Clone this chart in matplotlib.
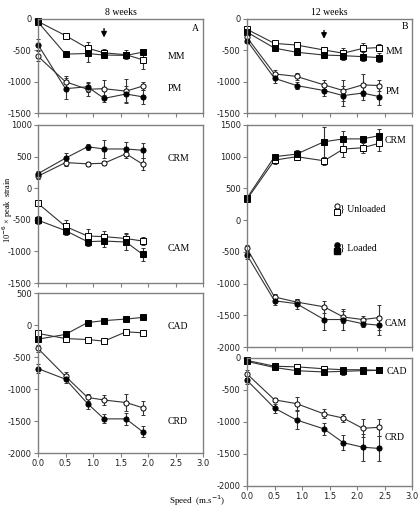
import numpy as np
import matplotlib
matplotlib.use('Agg')
from matplotlib import pyplot as plt

# speeds (m/s)
x8 = [0.0, 0.5, 0.9, 1.2, 1.6, 1.9]
x12 = [0.0, 0.5, 0.9, 1.4, 1.75, 2.1, 2.4]

# 8 weeks
mm_unl_8 = [-40, -265, -465, -540, -570, -650]
mm_unl_8_err = [30, 30, 90, 60, 70, 150]
mm_ld_8 = [-50, -560, -550, -575, -580, -530]
mm_ld_8_err = [30, 40, 130, 50, 40, 40]
pm_unl_8 = [-595, -1000, -1120, -1110, -1150, -1070]
pm_unl_8_err = [80, 90, 100, 140, 190, 60]
pm_ld_8 = [-410, -1110, -1080, -1265, -1195, -1240]
pm_ld_8_err = [90, 170, 80, 60, 120, 110]

crm_unl_8 = [190, 405, 385, 395, 545, 380]
crm_unl_8_err = [40, 60, 30, 30, 60, 100]
crm_ld_8 = [230, 475, 655, 620, 620, 600]
crm_ld_8_err = [40, 80, 50, 140, 110, 120]
cam_unl_8 = [-240, -605, -755, -765, -795, -835]
cam_unl_8_err = [30, 110, 110, 90, 90, 70]
cam_ld_8 = [-505, -670, -845, -835, -850, -1045]
cam_ld_8_err = [60, 70, 70, 100, 130, 100]

cad_unl_8 = [-130, -210, -225, -250, -105, -120]
cad_unl_8_err = [20, 20, 20, 20, 20, 20]
cad_ld_8 = [-220, -145, 40, 70, 95, 120]
cad_ld_8_err = [40, 30, 30, 20, 30, 30]
crd_unl_8 = [-365, -800, -1130, -1170, -1210, -1290]
crd_unl_8_err = [60, 60, 60, 80, 130, 110]
crd_ld_8 = [-680, -845, -1225, -1465, -1465, -1665]
crd_ld_8_err = [70, 60, 80, 70, 90, 90]

# 12 weeks
mm_unl_12 = [-165, -390, -415, -495, -545, -470, -455]
mm_unl_12_err = [30, 30, 40, 40, 80, 90, 50]
mm_ld_12 = [-210, -465, -530, -575, -585, -600, -615]
mm_ld_12_err = [40, 30, 30, 40, 70, 70, 70]
pm_unl_12 = [-295, -875, -915, -1050, -1140, -1050, -1060]
pm_unl_12_err = [40, 60, 50, 70, 170, 170, 90]
pm_ld_12 = [-345, -945, -1060, -1140, -1220, -1180, -1235]
pm_ld_12_err = [40, 80, 50, 80, 160, 110, 140]

crm_unl_12 = [330, 945, 1000, 935, 1120, 1140, 1210]
crm_unl_12_err = [30, 60, 60, 60, 120, 80, 120]
crm_ld_12 = [350, 1000, 1040, 1235, 1280, 1280, 1330]
crm_ld_12_err = [30, 40, 60, 240, 120, 50, 110]
cam_unl_12 = [-445, -1210, -1290, -1365, -1525, -1565, -1535]
cam_unl_12_err = [60, 40, 50, 90, 100, 60, 200]
cam_ld_12 = [-550, -1270, -1315, -1565, -1565, -1630, -1655]
cam_ld_12_err = [60, 70, 80, 170, 170, 50, 150]

cad_unl_12 = [-40, -130, -140, -170, -185, -185, -195]
cad_unl_12_err = [50, 30, 30, 30, 30, 30, 30]
cad_ld_12 = [-55, -150, -200, -220, -210, -200, -195]
cad_ld_12_err = [30, 30, 30, 50, 50, 50, 40]
crd_unl_12 = [-250, -655, -715, -875, -940, -1100, -1085]
crd_unl_12_err = [60, 30, 100, 70, 60, 140, 130]
crd_ld_12 = [-350, -785, -970, -1110, -1325, -1395, -1415]
crd_ld_12_err = [60, 70, 140, 100, 120, 210, 190]

grey = '#808080'
serif = 'Liberation Serif'
plt.rcParams['font.size'] = 7
plt.rcParams['axes.unicode_minus'] = False


def series(ax, x, y, e, marker, filled):
    ax.errorbar(x, y, yerr=e, fmt='-', marker=marker, ms=3.7,
                color='#333333', lw=0.8, elinewidth=0.8, capsize=1.5,
                mfc='k' if filled else 'w', mec='k', mew=0.7, clip_on=False)


def setup(ax, ylim, xlabels=False):
    ax.set_xlim(0, 3.0)
    ax.set_ylim(*ylim)
    ax.set_xticks(np.arange(0, 3.01, 0.5))
    ax.set_yticks(np.arange(ylim[0], ylim[1] + 1, 500))
    if xlabels:
        ax.set_xticklabels(['%.1f' % t for t in np.arange(0, 3.01, 0.5)])
    else:
        ax.set_xticklabels([])
    for s in ax.spines.values():
        s.set_color(grey)
        s.set_linewidth(1.0)
    ax.tick_params(direction='out', length=3, width=0.8, color=grey,
                   labelsize=6, pad=1.5, labelcolor='#222222')


fig = plt.figure(figsize=(4.19, 5.12), dpi=100)
w = 0.394
ax1 = fig.add_axes([0.0907, 0.779, w, 0.184])
ax2 = fig.add_axes([0.0907, 0.447, w, 0.309])
ax3 = fig.add_axes([0.0907, 0.115, w, 0.3125])
ax4 = fig.add_axes([0.5895, 0.779, w, 0.184])
ax5 = fig.add_axes([0.5895, 0.322, w, 0.434])
ax6 = fig.add_axes([0.5895, 0.051, w, 0.25])

# left column - 8 weeks
series(ax1, x8, mm_unl_8, mm_unl_8_err, 's', False)
series(ax1, x8, mm_ld_8, mm_ld_8_err, 's', True)
series(ax1, x8, pm_unl_8, pm_unl_8_err, 'o', False)
series(ax1, x8, pm_ld_8, pm_ld_8_err, 'o', True)
setup(ax1, (-1500, 0))
ax1.text(2.35, -595, 'MM', family=serif, va='center')
ax1.text(2.35, -1110, 'PM', family=serif, va='center')
ax1.text(2.8, -150, 'A', family=serif, va='center')
ax1.annotate('', xy=(1.2, -340), xytext=(1.2, -110),
             arrowprops=dict(arrowstyle='-|>', color='k', lw=1, mutation_scale=8))
ax1.set_title('8 weeks', family=serif, fontsize=7, pad=3)

series(ax2, x8, crm_unl_8, crm_unl_8_err, 'o', False)
series(ax2, x8, crm_ld_8, crm_ld_8_err, 'o', True)
series(ax2, x8, cam_unl_8, cam_unl_8_err, 's', False)
series(ax2, x8, cam_ld_8, cam_ld_8_err, 's', True)
setup(ax2, (-1500, 1000))
ax2.text(2.35, 473, 'CRM', family=serif, va='center')
ax2.text(2.35, -950, 'CAM', family=serif, va='center')

series(ax3, x8, cad_unl_8, cad_unl_8_err, 's', False)
series(ax3, x8, cad_ld_8, cad_ld_8_err, 's', True)
series(ax3, x8, crd_unl_8, crd_unl_8_err, 'o', False)
series(ax3, x8, crd_ld_8, crd_ld_8_err, 'o', True)
setup(ax3, (-2000, 500), xlabels=True)
ax3.text(2.35, -26, 'CAD', family=serif, va='center')
ax3.text(2.35, -1510, 'CRD', family=serif, va='center')

# right column - 12 weeks
series(ax4, x12, mm_unl_12, mm_unl_12_err, 's', False)
series(ax4, x12, mm_ld_12, mm_ld_12_err, 's', True)
series(ax4, x12, pm_unl_12, pm_unl_12_err, 'o', False)
series(ax4, x12, pm_ld_12, pm_ld_12_err, 'o', True)
setup(ax4, (-1500, 0))
ax4.text(2.52, -520, 'MM', family=serif, va='center')
ax4.text(2.52, -1156, 'PM', family=serif, va='center')
ax4.text(2.82, -120, 'B', family=serif, va='center')
ax4.annotate('', xy=(1.4, -360), xytext=(1.4, -140),
             arrowprops=dict(arrowstyle='-|>', color='k', lw=1, mutation_scale=8))
ax4.set_title('12 weeks', family=serif, fontsize=7, pad=3)

series(ax5, x12, crm_unl_12, crm_unl_12_err, 's', False)
series(ax5, x12, crm_ld_12, crm_ld_12_err, 's', True)
series(ax5, x12, cam_unl_12, cam_unl_12_err, 'o', False)
series(ax5, x12, cam_ld_12, cam_ld_12_err, 'o', True)
setup(ax5, (-2000, 1500))
ax5.text(2.5, 1262, 'CRM', family=serif, va='center')
ax5.text(2.5, -1630, 'CAM', family=serif, va='center')
# key
tr = ax5.transAxes
ax5.plot([0.545], [0.633], 'o', ms=3.7, mfc='w', mec='k', mew=0.7, transform=tr)
ax5.plot([0.545], [0.61], 's', ms=3.7, mfc='w', mec='k', mew=0.7, transform=tr)
ax5.text(0.565, 0.62, '} Unloaded', family=serif, va='center', transform=tr)
ax5.plot([0.545], [0.459], 'o', ms=3.7, mfc='k', mec='k', transform=tr)
ax5.plot([0.545], [0.434], 's', ms=3.7, mfc='k', mec='k', transform=tr)
ax5.text(0.565, 0.446, '} Loaded', family=serif, va='center', transform=tr)

series(ax6, x12, cad_unl_12, cad_unl_12_err, 's', False)
series(ax6, x12, cad_ld_12, cad_ld_12_err, 's', True)
series(ax6, x12, crd_unl_12, crd_unl_12_err, 'o', False)
series(ax6, x12, crd_ld_12, crd_ld_12_err, 'o', True)
setup(ax6, (-2000, 0), xlabels=True)
ax6.text(2.53, -210, 'CAD', family=serif, va='center')
ax6.text(2.5, -1250, 'CRD', family=serif, va='center')

fig.text(0.001, 0.59, r'10$^{-6}$ × peak  strain', rotation=90, family=serif,
         va='center', ha='left', fontsize=6)
fig.text(0.47, 0.008, r'Speed  (m.s$^{-1}$)', family=serif, ha='center', va='bottom',
         fontsize=6.5)

fig.savefig('out.png', dpi=100)
